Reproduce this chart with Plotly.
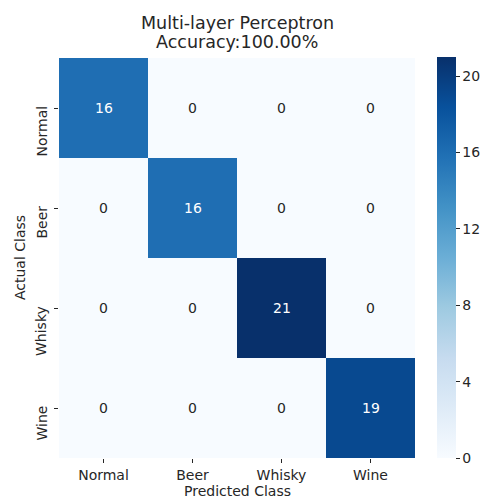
import plotly.graph_objects as go

# Confusion matrix of the multi-layer perceptron classifier
classes = ["Normal", "Beer", "Whisky", "Wine"]
matrix = [
    [16, 0, 0, 0],
    [0, 16, 0, 0],
    [0, 0, 21, 0],
    [0, 0, 0, 19],
]
accuracy = 100.00
cbar_ticks = [0, 4, 8, 12, 16, 20]

# matplotlib-style "Blues" ramp
blues = [
    [0.0, "rgb(247,251,255)"], [0.125, "rgb(222,235,247)"], [0.25, "rgb(198,219,239)"],
    [0.375, "rgb(158,202,225)"], [0.5, "rgb(107,174,214)"], [0.625, "rgb(66,146,198)"],
    [0.75, "rgb(33,113,181)"], [0.875, "rgb(8,81,156)"], [1.0, "rgb(8,48,107)"],
]

zmin = 0
zmax = max(max(r) for r in matrix)
text_col = "#262626"
font = "DejaVu Sans"

fig = go.Figure(go.Heatmap(
    z=matrix, x=classes, y=classes,
    colorscale=blues, zmin=zmin, zmax=zmax,
    xgap=0, ygap=0,
    colorbar=dict(
        x=1.0618, xanchor="left", xref="paper",
        y=0, yanchor="bottom", len=1, lenmode="fraction",
        thickness=19, outlinewidth=0, xpad=0, ypad=0,
        tickvals=cbar_ticks, ticks="outside", ticklen=4, tickwidth=1,
        tickcolor=text_col,
        tickfont=dict(family=font, size=14, color=text_col),
    ),
    hoverinfo="skip",
))

# Cell value labels: white on dark cells, dark on light cells
for i, row in enumerate(matrix):
    for j, v in enumerate(row):
        fig.add_annotation(
            x=classes[j], y=classes[i], text=str(v), showarrow=False,
            font=dict(family=font, size=14,
                      color="white" if v > (zmax + zmin) / 2 else text_col),
        )

# Rotated row labels, hanging down from each tick
for c in classes:
    fig.add_annotation(
        text=c, xref="paper", yref="y", x=0, y=c,
        xanchor="right", yanchor="top", xshift=-8, yshift=4,
        textangle=-90, showarrow=False,
        font=dict(family=font, size=14, color=text_col),
    )

# Two-line title above the matrix
title_lines = ["Multi-layer Perceptron", f"Accuracy:{accuracy:.2f}%"]
for k, line in enumerate(title_lines):
    fig.add_annotation(
        text=line, xref="paper", yref="paper", x=0.5, y=1,
        xanchor="center", yanchor="middle", yshift=34 - 19 * k,
        showarrow=False, font=dict(family=font, size=17.5, color=text_col),
    )

# x-axis title just above the bottom edge of the figure
fig.add_annotation(
    text="Predicted Class", xref="paper", yref="paper", x=0.5, y=0,
    xanchor="center", yanchor="top", yshift=-23, showarrow=False,
    font=dict(family=font, size=14, color=text_col),
)

fig.update_layout(
    width=486, height=499,
    margin=dict(l=59, r=71, t=57, b=41, autoexpand=False),
    paper_bgcolor="white", plot_bgcolor="white",
    font=dict(family=font, color=text_col),
    xaxis=dict(
        ticks="outside", ticklen=4, tickcolor=text_col,
        tickfont=dict(size=14), showgrid=False, zeroline=False,
        showline=False,
    ),
    yaxis=dict(
        title=dict(text="Actual Class", font=dict(size=14), standoff=25),
        autorange="reversed", showticklabels=False,
        ticks="outside", ticklen=4, tickcolor=text_col,
        showgrid=False, zeroline=False, showline=False,
    ),
)

fig.write_html("out.html")
